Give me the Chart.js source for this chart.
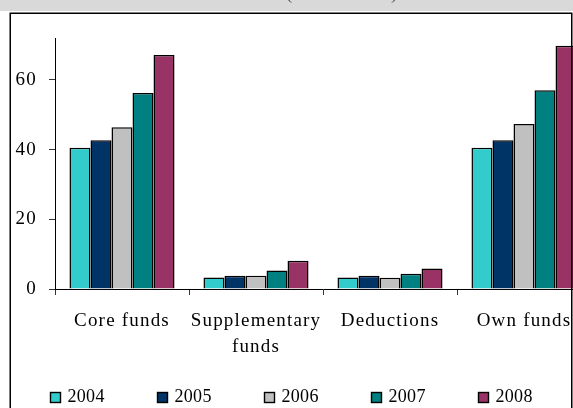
<!DOCTYPE html>
<html>
<head>
<meta charset="utf-8">
<script src="https://cdn.jsdelivr.net/npm/chart.js@4"></script>
<style>
  html, body { margin: 0; padding: 0; overflow: hidden; background: #fff; }
  #wrap { position: relative; width: 573px; height: 408px; overflow: hidden; }
  #wrap canvas { position: absolute; left: 0; top: 0; }
</style>
</head>
<body>
<div id="wrap"><canvas id="c" width="620" height="408"></canvas></div>
<script>
// Categories on the x axis (multi-line labels as arrays)
const categories = [['Core funds'], ['Supplementary', 'funds'], ['Deductions'], ['Own funds']];
const years = ['2004', '2005', '2006', '2007', '2008'];

// Values per year, in category order
const values2004 = [40.5, 3.3, 3.3, 40.5];
const values2005 = [42.7, 3.8, 3.8, 42.7];
const values2006 = [46.4, 3.8, 3.2, 47.3];
const values2007 = [56.2, 5.3, 4.4, 57.0];
const values2008 = [67.1, 8.1, 5.9, 69.8];

const yTickValues = [0, 20, 40, 60];
const colors = ['#33CCCC', '#003366', '#C0C0C0', '#008080', '#993366'];

const seriesValues = [values2004, values2005, values2006, values2007, values2008];
const FONT = 'Liberation Serif, Times New Roman, serif';

// Wider tracking for all axis text
const spacingPlugin = {
  id: 'spacing',
  beforeDraw(chart) { chart.ctx.letterSpacing = '1.2px'; }
};

// Page band, outer frame and legend
const decorPlugin = {
  id: 'decor',
  afterDraw(chart) {
    const ctx = chart.ctx;
    ctx.save();
    ctx.letterSpacing = '0px';
    // grey header band with the clipped heading fragments
    ctx.fillStyle = '#d9d9d9';
    ctx.fillRect(0, 0, 573, 11);
    ctx.beginPath();
    ctx.rect(0, 0, 573, 11);
    ctx.clip();
    ctx.fillStyle = '#555';
    ctx.font = '19px ' + FONT;
    ctx.textBaseline = 'alphabetic';
    ctx.textAlign = 'left';
    ctx.fillText('(', 286, -1);
    ctx.fillText(')', 391, -1);
    ctx.restore();

    ctx.save();
    ctx.strokeStyle = '#000';
    ctx.lineWidth = 1.5;
    ctx.strokeRect(10.25, 13.25, 561.5, 500);
    ctx.restore();

    // legend row
    ctx.save();
    ctx.letterSpacing = '0.3px';
    ctx.font = '18px ' + FONT;
    ctx.textBaseline = 'middle';
    ctx.textAlign = 'left';
    chart.data.datasets.forEach((ds, i) => {
      const x = 50.5 + i * 107;
      const y = 392.5;
      ctx.fillStyle = ds.backgroundColor;
      ctx.fillRect(x, y, 10, 10);
      ctx.strokeStyle = '#000';
      ctx.lineWidth = 1.4;
      ctx.strokeRect(x, y, 10, 10);
      ctx.fillStyle = '#000';
      ctx.fillText(ds.label, x + 17, y + 4.5);
    });
    ctx.restore();
  }
};

new Chart(document.getElementById('c'), {
  type: 'bar',
  data: {
    labels: categories,
    datasets: years.map((yr, i) => ({
      label: yr,
      data: seriesValues[i],
      backgroundColor: colors[i],
      borderColor: '#000',
      borderWidth: 1.5,
      categoryPercentage: 0.784,
      barPercentage: 1.0
    }))
  },
  options: {
    responsive: false,
    animation: false,
    devicePixelRatio: 1,
    layout: { padding: { left: 0, top: 38, right: 29, bottom: 0 } },
    plugins: {
      legend: { display: false },
      tooltip: { enabled: false }
    },
    scales: {
      x: {
        offset: true,
        afterFit(scale) { scale.height = 119; },
        grid: {
          offset: true,
          drawOnChartArea: false,
          drawTicks: true,
          tickLength: 6,
          color: '#333'
        },
        border: { display: true, color: '#000', width: 1 },
        ticks: {
          autoSkip: false,
          maxRotation: 0,
          minRotation: 0,
          color: '#000',
          padding: 13,
          font: { family: FONT, size: 19, lineHeight: 1.38 }
        }
      },
      y: {
        min: 0,
        max: 72,
        afterFit(scale) { scale.width = 55; },
        afterBuildTicks(scale) {
          scale.ticks = yTickValues.map(v => ({ value: v }));
        },
        grid: {
          drawOnChartArea: false,
          drawTicks: true,
          tickLength: 6,
          color: '#333'
        },
        border: { display: true, color: '#000', width: 1 },
        ticks: {
          color: '#000',
          padding: 12,
          font: { family: FONT, size: 19 }
        }
      }
    }
  },
  plugins: [spacingPlugin, decorPlugin]
});
</script>
</body>
</html>
